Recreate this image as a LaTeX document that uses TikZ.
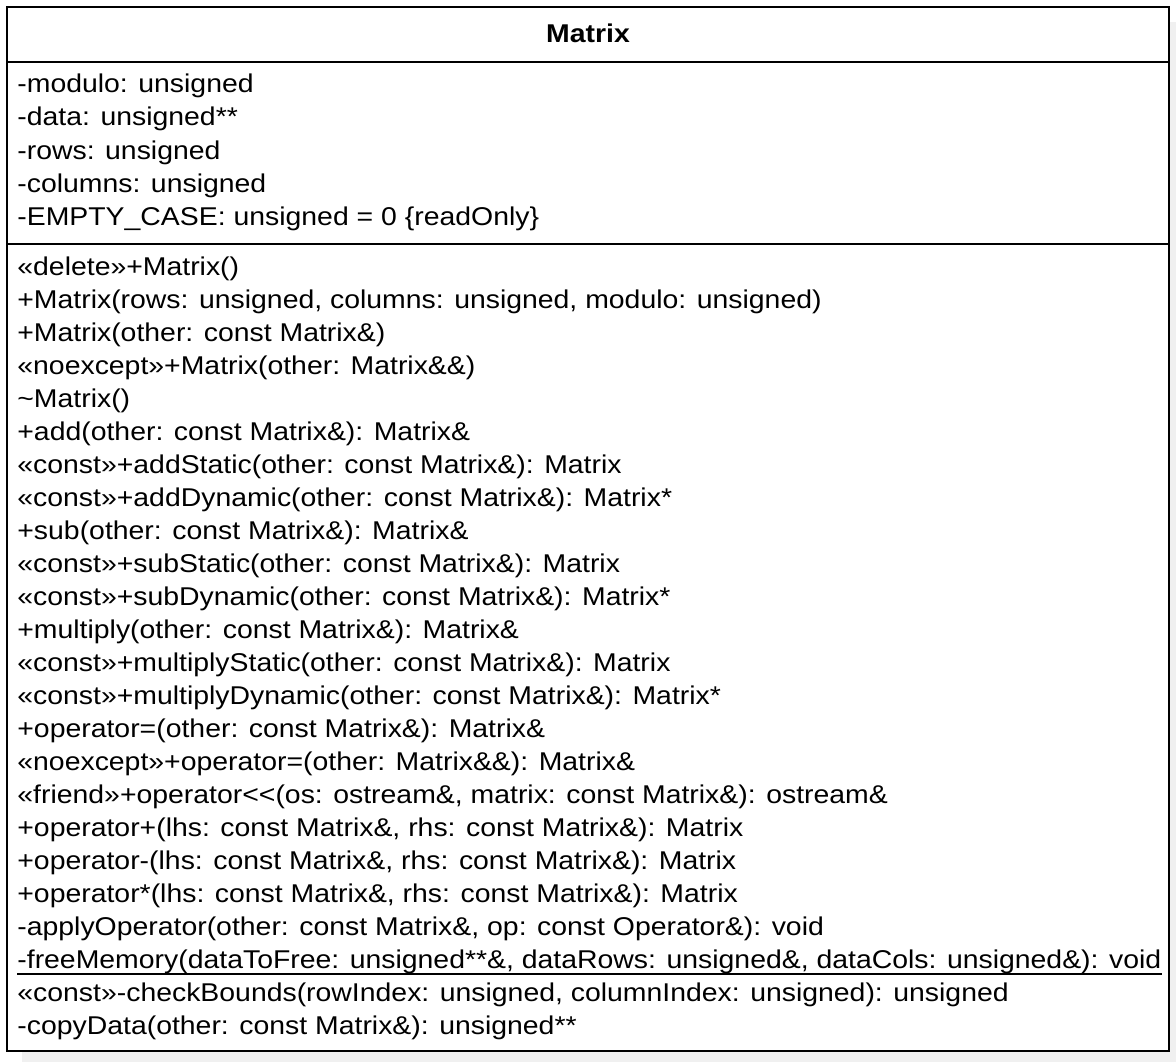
\documentclass[tikz,border=0pt]{standalone}
\usepackage{fontspec}
\setmainfont{Liberation Sans}[FakeStretch=1.105]

\begin{document}
\begin{tikzpicture}[x=0.5pt,y=-0.5pt,
    member/.style={anchor=base west,inner sep=0pt,font=\fontsize{12.85}{16}\selectfont},
    classname/.style={anchor=base,inner sep=0pt,font=\fontsize{12.85}{16}\selectfont\bfseries},
    classline/.style={line width=1pt}]
    \useasboundingbox (0,0) rectangle (1176,1062);
    %shadow
    \fill[gray!12] (22,22) rectangle (1176,1062);
    %class box
    \draw[classline,fill=white] (7,6.5) rectangle (1169,1050.5);
    \draw[classline] (7,61.5) -- (1169,61.5);
    \draw[classline] (7,243.5) -- (1169,243.5);
    \node[classname] (name) at (588,42.5) {Matrix};
    %attributes
    \foreach \txt [count=\i] in {{-modulo: unsigned},{-data: unsigned**},{-rows: unsigned},
        {-columns: unsigned},{-EMPTY\_CASE: unsigned = 0 \{readOnly\}}}
      \node[member] (a\i) at (17,{59.25+33.25*\i}) {\txt};
    %methods
    \foreach \txt [count=\i] in {{«delete»+Matrix()},
        {+Matrix(rows: unsigned, columns: unsigned, modulo: unsigned)},
        {+Matrix(other: const Matrix\&)},
        {«noexcept»+Matrix(other: Matrix\&\&)},
        {\textasciitilde Matrix()},
        {+add(other: const Matrix\&): Matrix\&},
        {«const»+addStatic(other: const Matrix\&): Matrix},
        {«const»+addDynamic(other: const Matrix\&): Matrix*},
        {+sub(other: const Matrix\&): Matrix\&},
        {«const»+subStatic(other: const Matrix\&): Matrix},
        {«const»+subDynamic(other: const Matrix\&): Matrix*},
        {+multiply(other: const Matrix\&): Matrix\&},
        {«const»+multiplyStatic(other: const Matrix\&): Matrix},
        {«const»+multiplyDynamic(other: const Matrix\&): Matrix*},
        {+operator=(other: const Matrix\&): Matrix\&},
        {«noexcept»+operator=(other: Matrix\&\&): Matrix\&},
        {«friend»+operator<{}<(os: ostream\&, matrix: const Matrix\&): ostream\&},
        {+operator+(lhs: const Matrix\&, rhs: const Matrix\&): Matrix},
        {+operator-(lhs: const Matrix\&, rhs: const Matrix\&): Matrix},
        {+operator*(lhs: const Matrix\&, rhs: const Matrix\&): Matrix},
        {-applyOperator(other: const Matrix\&, op: const Operator\&): void},
        {-freeMemory(dataToFree: unsigned**\&, dataRows: unsigned\&, dataCols: unsigned\&): void},
        {«const»-checkBounds(rowIndex: unsigned, columnIndex: unsigned): unsigned},
        {-copyData(other: const Matrix\&): unsigned**}}
      \node[member] (m\i) at (17,{242+33*\i}) {\txt};
    %static method underlined
    \draw[classline] (m22.south west) -- (m22.south east);
\end{tikzpicture}
\end{document}
